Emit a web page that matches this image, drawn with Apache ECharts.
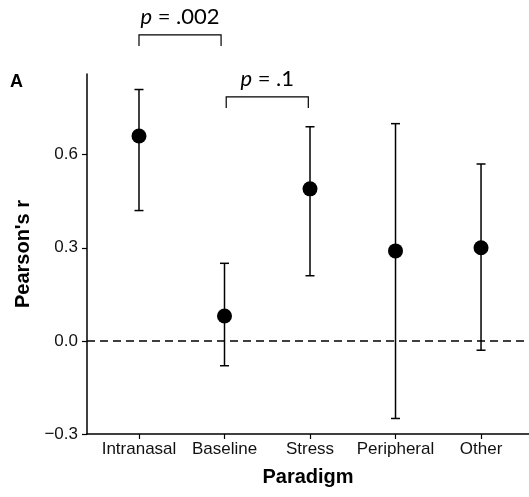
<!DOCTYPE html>
<html>
<head>
<meta charset="utf-8">
<script src="https://cdn.jsdelivr.net/npm/echarts@6/dist/echarts.min.js"></script>
<style>
  html, body { margin: 0; padding: 0; background: #fff; }
  #chart { width: 529px; height: 497px; }
</style>
</head>
<body>
<div id="chart"></div>
<script>
// Correlation estimates (Pearson's r) with confidence intervals per paradigm
const categories = ['Intranasal', 'Baseline', 'Stress', 'Peripheral', 'Other'];
const estimates = [0.66, 0.08, 0.49, 0.29, 0.30];
const lowerCI = [0.42, -0.08, 0.21, -0.25, -0.03];
const upperCI = [0.81, 0.25, 0.69, 0.70, 0.57];
const yTicks = [-0.3, 0.0, 0.3, 0.6];

// Pairwise comparison brackets: start/end category position, height (r units), p value
const bracketStart = [1.0, 2.02];
const bracketEnd = [1.96, 2.98];
const bracketLevel = [0.986, 0.786];
const bracketP = ['.002', '.1'];

const positions = categories.map((_, i) => i + 1);
const FONT = '"Liberation Sans", Arial, Helvetica, sans-serif';
const NOTE_FONT = 'Lato, "Open Sans", sans-serif';

const chart = echarts.init(document.getElementById('chart'), null, { renderer: 'canvas' });

const pointData = positions.map((x, i) => [x, estimates[i]]);
const barData = positions.map((x, i) => [x, lowerCI[i], upperCI[i]]);
const bracketData = bracketStart.map((s, i) => [s, bracketEnd[i], bracketLevel[i], bracketP[i]]);

const option = {
  animation: false,
  backgroundColor: '#fff',
  title: {
    text: 'A',
    left: 5,
    top: 68,
    textStyle: { fontFamily: FONT, fontSize: 18, fontWeight: 'bold', color: '#000' }
  },
  grid: { left: 87, right: 0, top: 74, bottom: 63, containLabel: false },
  xAxis: {
    type: 'value',
    min: 0.392,
    max: 5.561,
    name: 'Paradigm',
    nameLocation: 'middle',
    nameGap: 33,
    nameTextStyle: { fontFamily: FONT, fontSize: 20, fontWeight: 'bold', color: '#000' },
    axisLine: { show: true, onZero: false, lineStyle: { color: '#000', width: 1.5 } },
    axisTick: { show: true, length: 5, customValues: positions, lineStyle: { color: '#000', width: 1.2 } },
    axisLabel: {
      customValues: positions,
      margin: 7,
      fontFamily: FONT, fontSize: 17, color: '#111',
      formatter: v => categories[Math.round(v) - 1]
    },
    splitLine: { show: false }
  },
  yAxis: {
    type: 'value',
    min: -0.3,
    max: 0.86,
    name: "Pearson's r",
    nameLocation: 'middle',
    nameGap: 52,
    nameRotate: 90,
    nameTextStyle: { fontFamily: FONT, fontSize: 20, fontWeight: 'bold', color: '#000' },
    axisLine: { show: true, onZero: false, lineStyle: { color: '#000', width: 1.5 } },
    axisTick: { show: true, length: 5, customValues: yTicks, lineStyle: { color: '#000', width: 1.2 } },
    axisLabel: {
      customValues: yTicks,
      margin: 9,
      fontFamily: FONT, fontSize: 17, color: '#111',
      formatter: v => v.toFixed(1).replace('-', '\u2212')
    },
    splitLine: { show: false }
  },
  series: [
    {
      // confidence interval whiskers
      type: 'custom',
      data: barData,
      z: 3,
      renderItem: (params, api) => {
        const x = api.value(0);
        const top = api.coord([x, api.value(2)]);
        const bot = api.coord([x, api.value(1)]);
        const cap = 4.5;
        const style = { stroke: '#000', lineWidth: 1.5 };
        return {
          type: 'group',
          children: [
            { type: 'line', shape: { x1: top[0], y1: top[1], x2: bot[0], y2: bot[1] }, style },
            { type: 'line', shape: { x1: top[0] - cap, y1: top[1], x2: top[0] + cap, y2: top[1] }, style },
            { type: 'line', shape: { x1: bot[0] - cap, y1: bot[1], x2: bot[0] + cap, y2: bot[1] }, style }
          ]
        };
      }
    },
    {
      // point estimates
      type: 'scatter',
      data: pointData,
      symbol: 'circle',
      symbolSize: 15,
      z: 4,
      itemStyle: { color: '#000', opacity: 1 },
      markLine: {
        silent: true,
        symbol: 'none',
        label: { show: false },
        lineStyle: { type: [8, 5], color: '#000', width: 1.5, opacity: 1 },
        data: [{ yAxis: 0 }]
      }
    },
    {
      // significance brackets
      type: 'custom',
      data: bracketData,
      clip: false,
      z: 5,
      silent: true,
      renderItem: (params, api) => {
        const a = api.coord([api.value(0), api.value(2)]);
        const b = api.coord([api.value(1), api.value(2)]);
        const drop = 11;
        const style = { stroke: '#000', lineWidth: 1.2, fill: null };
        return {
          type: 'group',
          children: [
            { type: 'polyline', shape: { points: [[a[0], a[1] + drop], a, b, [b[0], b[1] + drop]] }, style },
            {
              type: 'text',
              style: {
                x: (a[0] + b[0]) / 2,
                y: a[1] - 7,
                align: 'center',
                verticalAlign: 'bottom',
                text: '{i|p} = ' + bracketP[params.dataIndex],
                fontFamily: NOTE_FONT,
                fontSize: 22,
                fill: '#000',
                rich: {
                  i: { fontStyle: 'italic', fontFamily: NOTE_FONT, fontSize: 22, fill: '#000' }
                }
              }
            }
          ]
        };
      }
    }
  ]
};

chart.setOption(option);
</script>
</body>
</html>
